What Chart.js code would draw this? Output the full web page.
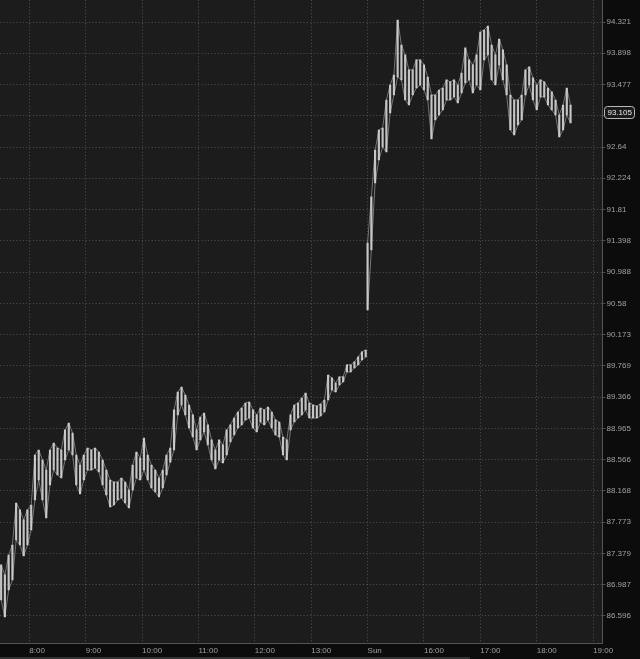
<!DOCTYPE html>
<html lang="en">
<head>
  <meta charset="UTF-8" />
  <title>Price chart</title>
  <script src="https://cdn.jsdelivr.net/npm/chart.js"></script>
  <style>
    html, body { margin: 0; padding: 0; background: #0c0c0c; }
    #wrap { width: 640px; height: 659px; }
  </style>
</head>
<body>
  <div id="wrap"><canvas id="priceChart"></canvas></div>

  <script>
    // 4-minute bars, x in minutes from 8:00 (weekend gap collapsed)
    const barStep = 4;

    // Friday session
    const friStart = -30;
    const friHigh = [
      87.234, 87.109, 87.359, 87.485, 88.015, 87.927, 87.801, 87.927, 87.990, 88.625,
      88.689, 88.561, 88.434, 88.689, 88.778, 88.714, 88.689, 88.945, 89.034, 88.906,
      88.625, 88.497, 88.625, 88.714, 88.689, 88.714, 88.663, 88.561, 88.434, 88.307,
      88.281, 88.281, 88.332, 88.281, 88.179, 88.497, 88.663, 88.586, 88.842, 88.625,
      88.497, 88.434, 88.332, 88.434, 88.625, 88.714, 89.201, 89.432, 89.496, 89.393,
      89.265, 89.137, 88.945, 89.111, 89.162, 89.009, 88.817, 88.689, 88.817, 88.753,
      88.945, 89.009, 89.098, 89.175, 89.226, 89.290, 89.303, 89.201, 89.137, 89.226,
      89.201, 89.239, 89.175, 89.073, 89.047, 88.855, 88.817, 89.137, 89.265, 89.290,
      89.354, 89.419, 89.290, 89.265, 89.252, 89.278, 89.329, 89.651, 89.613, 89.548,
      89.626, 89.626, 89.781, 89.781, 89.820, 89.884, 89.949, 89.974
    ];
    const friLow = [
      86.796, 86.583, 86.921, 87.046, 87.548, 87.485, 87.346, 87.485, 87.674, 88.053,
      88.307, 88.053, 87.826, 88.243, 88.434, 88.370, 88.332, 88.561, 88.689, 88.625,
      88.243, 88.129, 88.307, 88.434, 88.434, 88.459, 88.408, 88.243, 88.116, 87.965,
      87.990, 88.053, 88.078, 88.015, 87.952, 88.179, 88.332, 88.307, 88.434, 88.307,
      88.205, 88.154, 88.091, 88.205, 88.370, 88.535, 88.689, 89.137, 89.265, 89.137,
      88.970, 88.855, 88.689, 88.817, 88.919, 88.753, 88.561, 88.446, 88.561, 88.523,
      88.625, 88.791, 88.881, 88.970, 89.009, 89.073, 89.098, 88.970, 88.919, 89.047,
      89.009, 89.073, 88.970, 88.881, 88.855, 88.625, 88.561, 88.945, 89.047, 89.098,
      89.137, 89.201, 89.098, 89.098, 89.098, 89.124, 89.175, 89.329, 89.458, 89.432,
      89.522, 89.561, 89.690, 89.690, 89.742, 89.781, 89.845, 89.884
    ];

    // Sunday session
    const sunStart = 360;
    const sunHigh = [
      91.369, 91.977, 92.600, 92.867, 92.894, 93.269, 93.470, 93.605, 94.348, 94.010,
      93.875, 93.673, 93.673, 93.808, 93.808, 93.740, 93.578, 93.336, 93.336, 93.403,
      93.430, 93.538, 93.511, 93.538, 93.470, 93.632, 93.970, 93.808, 93.740, 93.875,
      94.186, 94.213, 94.267, 94.010, 93.875, 94.091, 93.943, 93.740, 93.336, 93.269,
      93.269, 93.336, 93.673, 93.713, 93.565, 93.470, 93.538, 93.511, 93.430, 93.377,
      93.269, 93.068, 93.202, 93.430, 93.202
    ];
    const sunLow = [
      90.493, 91.277, 92.162, 92.467, 92.640, 92.574, 93.095, 93.336, 93.578, 93.538,
      93.269, 93.202, 93.336, 93.430, 93.470, 93.403, 93.269, 92.747, 93.001, 93.068,
      93.135, 93.269, 93.269, 93.310, 93.229, 93.363, 93.497, 93.538, 93.363, 93.470,
      93.403, 93.808, 93.875, 93.538, 93.470, 93.740, 93.538, 93.336, 92.867, 92.800,
      92.934, 93.001, 93.336, 93.470, 93.269, 93.135, 93.310, 93.310, 93.202, 93.135,
      93.068, 92.774, 92.867, 93.068, 92.961
    ];

    const lastPrice = 93.105;
    const lastPriceLabel = '93.105';

    const yTicks = [94.321, 93.898, 93.477, 93.057, 92.64, 92.224, 91.81, 91.398, 90.988, 90.58,
                    90.173, 89.769, 89.366, 88.965, 88.566, 88.168, 87.773, 87.379, 86.987, 86.596];
    const yTickLabels = ['94.321', '93.898', '93.477', '93.057', '92.64', '92.224', '91.81', '91.398', '90.988', '90.58',
                         '90.173', '89.769', '89.366', '88.965', '88.566', '88.168', '87.773', '87.379', '86.987', '86.596'];
    const xTicks = [0, 60, 120, 180, 240, 300, 360, 420, 480, 540, 600];
    const xTickLabels = ['8:00', '9:00', '10:00', '11:00', '12:00', '13:00', 'Sun', '16:00', '17:00', '18:00', '19:00'];

    const toBars = (start, hi, lo) => hi.map((h, i) => ({ x: start + i * barStep, y: [lo[i], h] }));
    const toPts = (start, vals) => vals.map((v, i) => ({ x: start + i * barStep, y: v }));

    const barColor = 'rgba(215,215,215,0.9)';
    const edgeColor = 'rgba(190,190,190,0.55)';
    const gridColor = 'rgba(125,125,125,0.55)';
    const labelColor = '#a0a0a0';
    const tickFont = { family: 'Liberation Sans', size: 8 };

    const rangeSet = (start, hi, lo) => ({
      type: 'bar', data: toBars(start, hi, lo),
      backgroundColor: barColor, borderWidth: 0, barThickness: 1.5, grouped: false
    });
    const edgeSet = (start, vals) => ({
      type: 'line', data: toPts(start, vals),
      borderColor: edgeColor, borderWidth: 1, pointRadius: 0, tension: 0
    });

    const frame = {
      id: 'frame',
      beforeDraw(chart) {
        const { ctx, chartArea: a } = chart;
        ctx.save();
        ctx.fillStyle = '#0c0c0c';
        ctx.fillRect(0, 0, chart.width, chart.height);
        ctx.fillStyle = '#1c1c1c';
        ctx.fillRect(a.left, a.top, a.right - a.left, a.bottom - a.top);
        // scrollbar strip at the very bottom
        ctx.fillStyle = '#333';
        ctx.fillRect(0, chart.height - 2, 470, 2);
        ctx.restore();
      },
      afterDraw(chart) {
        const { ctx, chartArea: a } = chart;
        const y = Math.round(chart.scales.y.getPixelForValue(lastPrice)) + 0.5;
        const x0 = a.right + 2;
        ctx.save();
        ctx.beginPath();
        ctx.roundRect(x0, y - 6, 30, 12, 3);
        ctx.fillStyle = '#1a1a1a';
        ctx.fill();
        ctx.strokeStyle = '#b8b8b8';
        ctx.lineWidth = 1;
        ctx.stroke();
        ctx.fillStyle = '#e8e8e8';
        ctx.font = '8px "Liberation Sans"';
        ctx.textBaseline = 'middle';
        ctx.fillText(lastPriceLabel, x0 + 3, y + 0.5);
        ctx.restore();
      }
    };

    new Chart(document.getElementById('priceChart'), {
      type: 'bar',
      data: {
        datasets: [
          rangeSet(friStart, friHigh, friLow),
          rangeSet(sunStart, sunHigh, sunLow),
          edgeSet(friStart, friHigh),
          edgeSet(friStart, friLow),
          edgeSet(sunStart, sunHigh),
          edgeSet(sunStart, sunLow)
        ]
      },
      options: {
        responsive: true,
        maintainAspectRatio: false,
        animation: false,
        layout: { padding: 0 },
        plugins: {
          legend: { display: false },
          tooltip: { enabled: false }
        },
        scales: {
          x: {
            type: 'linear',
            min: -31.2,
            max: 610,
            offset: false,
            afterBuildTicks: s => { s.ticks = xTicks.map(v => ({ value: v })); },
            afterFit: s => { s.height = 16; s.paddingLeft = 0; s.paddingRight = 0; },
            grid: { color: gridColor, drawTicks: false, offset: false },
            border: { color: '#555', dash: [1, 2.3] },
            ticks: {
              color: labelColor, font: tickFont, padding: 3, align: 'start',
              maxRotation: 0, autoSkip: false,
              callback: (v, i) => xTickLabels[i]
            }
          },
          y: {
            type: 'logarithmic',
            position: 'right',
            min: 86.26,
            max: 94.62,
            bounds: 'data',
            afterBuildTicks: s => { s.ticks = yTicks.map(v => ({ value: v })); },
            afterFit: s => { s.width = 37.5; s.paddingTop = 0; s.paddingBottom = 0; },
            grid: { color: gridColor, tickLength: 3 },
            border: { color: '#555', dash: [1, 2.3] },
            ticks: {
              color: labelColor, font: tickFont, padding: 1, autoSkip: false,
              callback: (v, i) => yTickLabels[i]
            }
          }
        }
      },
      plugins: [frame]
    });
  </script>
</body>
</html>
